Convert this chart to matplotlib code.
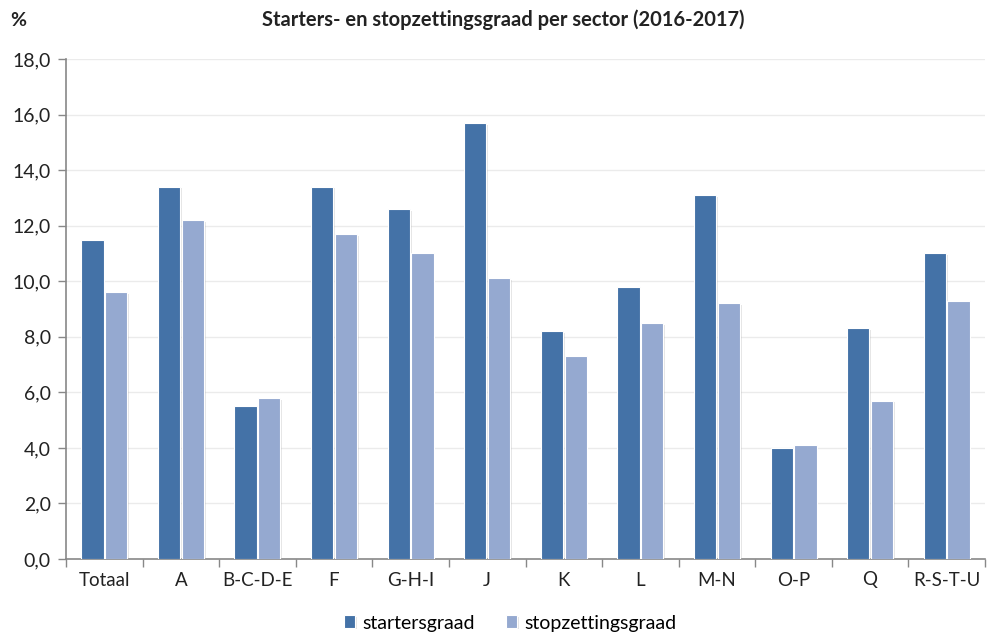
import matplotlib
matplotlib.use("Agg")
import matplotlib.pyplot as plt
import matplotlib.patheffects as pe
from matplotlib.ticker import FuncFormatter, FixedLocator
import numpy as np

plt.rcParams['font.family'] = ['Lato', 'DejaVu Sans']

sectors = ["Totaal", "A", "B-C-D-E", "F", "G-H-I", "J", "K", "L", "M-N", "O-P", "Q", "R-S-T-U"]
startersgraad = [11.5, 13.4, 5.5, 13.4, 12.6, 15.7, 8.2, 9.8, 13.1, 4.0, 8.3, 11.0]
stopzettingsgraad = [9.6, 12.2, 5.8, 11.7, 11.0, 10.1, 7.3, 8.5, 9.2, 4.1, 5.7, 9.3]
series_names = ["startersgraad", "stopzettingsgraad"]
title = "Starters- en stopzettingsgraad per sector (2016-2017)"

dark = "#4472A7"
light = "#95A9D0"

fig = plt.figure(figsize=(9.89, 6.37), dpi=100)
ax = fig.add_axes([66 / 989, 1 - 559 / 637, (985 - 66) / 989, 500 / 637])

x = np.arange(len(sectors))
w = 0.29
shadow = [pe.SimplePatchShadow(offset=(1.2, -1.2), shadow_rgbFace="#aaaaaa", alpha=0.3), pe.Normal()]
b1 = ax.bar(x - 0.155, startersgraad, w, color=dark, edgecolor="white", linewidth=0.8,
            label=series_names[0], zorder=3)
b2 = ax.bar(x + 0.155, stopzettingsgraad, w, color=light, edgecolor="white", linewidth=0.8,
            label=series_names[1], zorder=3)
for p in list(b1) + list(b2):
    p.set_path_effects(shadow)

ax.set_xlim(-0.5, len(sectors) - 0.5)
ax.set_ylim(0, 18)
ax.set_yticks(np.arange(0, 18.1, 2))
ax.yaxis.set_major_formatter(FuncFormatter(lambda v, _: f"{v:.1f}".replace(".", ",")))
ax.grid(axis="y", color="#EBEBEB", linewidth=1, zorder=0)
ax.set_axisbelow(True)

# category labels centred, tick marks on category boundaries
ax.set_xticks(x)
ax.set_xticklabels(sectors)
ax.tick_params(axis="x", which="major", length=0, labelsize=13.5, pad=9, colors="#222222")
ax.xaxis.set_minor_locator(FixedLocator(np.arange(-0.5, len(sectors), 1)))
ax.tick_params(axis="x", which="minor", length=6, color="#888888", width=1)
ax.tick_params(axis="y", length=6, color="#888888", width=1, labelsize=14, pad=5,
               labelcolor="#222222")

for s in ["top", "right"]:
    ax.spines[s].set_visible(False)
for s in ["left", "bottom"]:
    ax.spines[s].set_color("#888888")
    ax.spines[s].set_linewidth(1.2)

fig.text(503 / 989, 1 - 20 / 637, title, ha="center", va="center", fontsize=14.5, fontweight="bold", color="#222222")
fig.text(10 / 989, 1 - 20 / 637, "%", ha="left", va="center", fontsize=14, fontweight="bold", color="#222222")

fig.legend(handles=[b1, b2], labels=series_names, loc="center", bbox_to_anchor=(510 / 989, 1 - 623 / 637),
           ncol=2, frameon=False, fontsize=14, handlelength=0.6, handleheight=0.6,
           handletextpad=0.35, columnspacing=1.6)

fig.savefig("out.png", dpi=100)
